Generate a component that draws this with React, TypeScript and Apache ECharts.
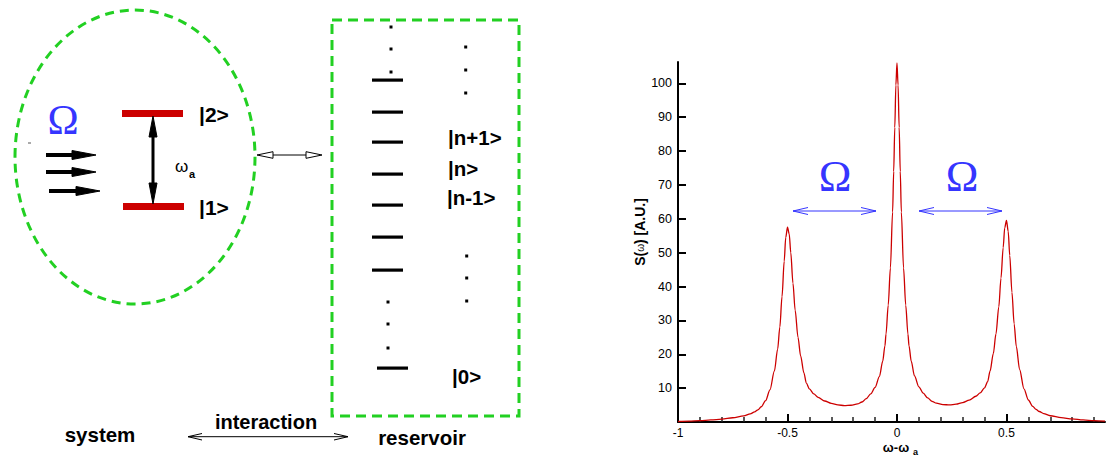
import React, { useEffect, useRef } from "react";
import * as echarts from "echarts";

// Spectrum S(omega)
const detuning = [
  -1, -0.95, -0.9, -0.85, -0.8, -0.75, -0.7, -0.67, -0.65, -0.635, -0.62, -0.6, -0.58, -0.56,
  -0.545, -0.535, -0.525, -0.515, -0.508, -0.5, -0.492, -0.485, -0.475, -0.465, -0.452, -0.44,
  -0.425, -0.414, -0.4, -0.38, -0.36, -0.33, -0.3, -0.27, -0.24, -0.21, -0.18, -0.16, -0.14,
  -0.12, -0.1, -0.08, -0.065, -0.055, -0.05, -0.04, -0.03, -0.02, -0.015, -0.01, -0.005, 0,
  0.005, 0.01, 0.015, 0.02, 0.03, 0.04, 0.05, 0.055, 0.065, 0.08, 0.1, 0.12, 0.14, 0.16, 0.18,
  0.21, 0.24, 0.27, 0.3, 0.33, 0.36, 0.38, 0.4, 0.414, 0.425, 0.44, 0.452, 0.465, 0.475, 0.485,
  0.492, 0.5, 0.508, 0.515, 0.525, 0.535, 0.545, 0.56, 0.58, 0.6, 0.62, 0.635, 0.65, 0.67, 0.7,
  0.75, 0.8, 0.85, 0.9, 0.95,
];
const spectrum = [
  0.15, 0.25, 0.4, 0.6, 0.85, 1.25, 1.8, 2.4, 3.0, 3.6, 4.5, 6.3, 9.5, 15,
  21.5, 28, 37, 47.5, 54.5, 57.5, 55.5, 50, 41, 33, 25, 19.5,
  14.5, 11.5, 9.8, 8.3, 7.3, 6.2, 5.5, 5.05, 4.85, 4.95, 5.35, 5.9, 6.9,
  8.3, 10.2, 13.5, 18, 22.5, 26, 34.5, 45.5, 62, 74, 87, 99.5, 106,
  99.5, 87, 74, 62, 45.5, 34.5, 26, 22.5, 18, 13.6, 10.4, 8.5, 7.1, 6.1, 5.55,
  5.15, 5.05, 5.25, 5.75, 6.45, 7.6, 8.6, 10.1, 11.9, 15, 20.2, 26, 34, 42.5, 51.5,
  57.3, 59.5, 56.3, 49.2, 38.3, 29, 22.3, 15.5, 9.8, 6.5, 4.6, 3.7, 3.1, 2.5, 1.85,
  1.3, 0.9, 0.6, 0.4, 0.25,
];
const yTickValues = [10, 20, 30, 40, 50, 60, 70, 80, 90, 100];
const xLabelValues = [-1, -0.5, 0, 0.5];
const xMajorTickValues = [-0.5, 0, 0.5];
const xMinorTickValues = [-0.9, -0.8, -0.7, -0.6, -0.4, -0.3, -0.2, -0.1, 0.1, 0.2, 0.3, 0.4, 0.6, 0.7, 0.8, 0.9];

const SANS = "Liberation Sans, Arial, Helvetica, sans-serif";
const SERIF = "Liberation Serif, Times New Roman, serif";
const GREEN = "#22d022";
const BLUE = "#3535ff";
const RED = "#cc0000";
const BLACK = "#000000";

function txt(x: number, y: number, text: string, size: number, opts: any = {}) {
  return {
    type: "text",
    x,
    y,
    silent: true,
    style: {
      text,
      fontSize: size,
      fontFamily: opts.family || SANS,
      fontWeight: opts.weight || "bold",
      fill: opts.fill || BLACK,
      align: opts.align || "left",
      verticalAlign: "middle",
    },
  };
}

function line(x1: number, y1: number, x2: number, y2: number, w: number, color = BLACK) {
  return { type: "line", silent: true, shape: { x1, y1, x2, y2 }, style: { stroke: color, lineWidth: w } };
}

function poly(points: number[][], fill: string) {
  return { type: "polygon", silent: true, shape: { points }, style: { fill, stroke: fill, lineWidth: 1 } };
}

function vHead(points: number[][], color: string, w = 1) {
  return { type: "polyline", silent: true, shape: { points }, style: { stroke: color, lineWidth: w, fill: "none" } };
}

function openTri(points: number[][]) {
  return { type: "polygon", silent: true, shape: { points }, style: { fill: "#ffffff", stroke: BLACK, lineWidth: 1 } };
}

function dot(x: number, y: number) {
  return { type: "rect", silent: true, shape: { x: x - 1.5, y: y - 1.5, width: 3, height: 3 }, style: { fill: BLACK } };
}

function buildDiagram(): any[] {
  const g: any[] = [];
  // system ellipse
  g.push({
    type: "ellipse",
    silent: true,
    shape: { cx: 135, cy: 157, rx: 120, ry: 147 },
    style: { fill: "none", stroke: GREEN, lineWidth: 3, lineDash: [9, 6] },
  });
  // reservoir box
  g.push({
    type: "rect",
    silent: true,
    shape: { x: 332, y: 20, width: 187, height: 396 },
    style: { fill: "none", stroke: GREEN, lineWidth: 3, lineDash: [10, 6] },
  });
  // two-level atom
  g.push({ type: "rect", silent: true, shape: { x: 122, y: 110, width: 61, height: 7 }, style: { fill: RED } });
  g.push({ type: "rect", silent: true, shape: { x: 123, y: 203, width: 61, height: 7 }, style: { fill: RED } });
  g.push(line(153, 130, 153, 190, 3));
  g.push(poly([[153, 116], [149, 137], [157, 137]], BLACK));
  g.push(poly([[153, 204], [149, 183], [157, 183]], BLACK));
  g.push(txt(175, 166, "ω", 17, { weight: "normal" }));
  g.push(txt(189, 174, "a", 11, { weight: "bold" }));
  g.push(txt(199, 114, "|2>", 21));
  g.push(txt(199, 207, "|1>", 21));
  // driving field
  g.push(txt(63, 120, "Ω", 42, { family: SERIF, weight: "normal", fill: BLUE, align: "center" }));
  g.push({ type: "rect", silent: true, shape: { x: 28, y: 142.5, width: 3, height: 1 }, style: { fill: "#555" } });
  const arrowRows = [
    [46, 96, 155],
    [46, 96, 172],
    [49, 100, 191],
  ];
  arrowRows.forEach(([a, b, y]) => {
    g.push(line(a, y, b - 20, y, 4));
    g.push(poly([[b, y], [b - 24, y - 4.5], [b - 24, y + 4.5]], BLACK));
  });
  // coupling arrow
  g.push(line(262, 155, 318, 155, 1));
  g.push(openTri([[257, 155], [273, 151.7], [273, 158.3]]));
  g.push(openTri([[322, 155], [306, 151.7], [306, 158.3]]));
  // reservoir levels
  [80, 112, 142, 174, 205, 237, 270].forEach((y) => {
    g.push({ type: "rect", silent: true, shape: { x: 372, y: y - 1.5, width: 31, height: 3.2 }, style: { fill: BLACK } });
  });
  g.push({ type: "rect", silent: true, shape: { x: 377, y: 366.5, width: 31, height: 3.2 }, style: { fill: BLACK } });
  [27, 49, 72].forEach((y) => g.push(dot(391, y)));
  [302, 324, 348].forEach((y) => g.push(dot(388, y)));
  [47, 70, 93].forEach((y) => g.push(dot(465.7, y)));
  [256, 278, 301].forEach((y) => g.push(dot(466.7, y)));
  g.push(txt(448, 137, "|n+1>", 20.5));
  g.push(txt(448, 168, "|n>", 20.5));
  g.push(txt(447, 197, "|n-1>", 20.5));
  g.push(txt(452, 376, "|0>", 20.5));
  // bottom captions
  g.push(txt(100, 434, "system", 20.5, { align: "center" }));
  g.push(txt(266, 422, "interaction", 20, { align: "center" }));
  g.push(txt(422, 437, "reservoir", 20.5, { align: "center" }));
  g.push(line(188, 436.7, 348, 436.7, 1));
  g.push(vHead([[202, 433.5], [188, 436.7], [202, 440]], BLACK));
  g.push(vHead([[334, 433.5], [348, 436.7], [334, 440]], BLACK));
  return g;
}

function buildChartDecor(): any[] {
  const g: any[] = [];
  g.push(txt(835, 176, "Ω", 44, { family: SERIF, weight: "normal", fill: BLUE, align: "center" }));
  g.push(txt(962, 176, "Ω", 44, { family: SERIF, weight: "normal", fill: BLUE, align: "center" }));
  g.push(line(793, 211, 876, 211, 1, BLUE));
  g.push(vHead([[808, 207.5], [793, 211], [808, 214.5]], BLUE));
  g.push(vHead([[861, 207.5], [876, 211], [861, 214.5]], BLUE));
  g.push(line(919, 211, 1002, 211, 1, BLUE));
  g.push(vHead([[934, 207.5], [919, 211], [934, 214.5]], BLUE));
  g.push(vHead([[987, 207.5], [1002, 211], [987, 214.5]], BLUE));
  // y axis name
  g.push({
    type: "text",
    x: 640,
    y: 232,
    rotation: Math.PI / 2,
    silent: true,
    style: {
      text: "{b|S(}{w|ω}{b|) [A.U.]}",
      align: "center",
      verticalAlign: "middle",
      fill: BLACK,
      rich: {
        b: { fontSize: 14, fontWeight: "bold", fontFamily: SANS, fill: BLACK },
        w: { fontSize: 10, fontWeight: "normal", fontFamily: SANS, fill: BLACK },
      },
    },
  });
  // x axis name
  g.push(txt(896, 447, "ω-ω", 13, { align: "center" }));
  g.push(txt(913, 452, "a", 9, {}));
  return g;
}

export default function App() {
  const ref = useRef<HTMLDivElement>(null);
  useEffect(() => {
    if (!ref.current) return;
    const chart = echarts.init(ref.current, undefined, { renderer: "svg" });
    const option: any = {
      animation: false,
      backgroundColor: "#ffffff",
      grid: { left: 678, right: 1, top: 62, bottom: 36 },
      xAxis: [
        {
          type: "value",
          min: -1,
          max: 0.95,
          axisLine: { onZero: false, lineStyle: { color: BLACK, width: 2 } },
          axisTick: { show: true, inside: true, length: 8, lineStyle: { color: BLACK, width: 2 }, customValues: xMajorTickValues },
          axisLabel: {
            color: BLACK,
            fontSize: 12,
            fontFamily: SANS,
            margin: 5,
            customValues: xLabelValues,
            formatter: (v: number) => String(v),
          },
          splitLine: { show: false },
        },
        {
          type: "value",
          min: -1,
          max: 0.95,
          position: "bottom",
          axisLine: { show: false, onZero: false },
          axisTick: { show: true, inside: true, length: 5, lineStyle: { color: "#222", width: 1.5 }, customValues: xMinorTickValues },
          axisLabel: { show: false },
          splitLine: { show: false },
        },
      ],
      yAxis: {
        type: "value",
        min: 0,
        max: 106.3,
        axisLine: { show: true, onZero: false, lineStyle: { color: BLACK, width: 2 } },
        axisTick: { show: true, inside: true, length: 8, lineStyle: { color: BLACK, width: 2 }, customValues: yTickValues },
        axisLabel: { color: BLACK, fontSize: 12.5, fontFamily: SANS, margin: 6, customValues: yTickValues },
        splitLine: { show: false },
      },
      series: [
        {
          type: "line",
          xAxisIndex: 0,
          data: detuning.map((x, i) => [x, spectrum[i]]),
          showSymbol: false,
          smooth: 0.3,
          smoothMonotone: "x",
          lineStyle: { color: RED, width: 1.3 },
          silent: true,
        },
      ],
      graphic: [...buildDiagram(), ...buildChartDecor()],
    };
    chart.setOption(option);
    return () => chart.dispose();
  }, []);
  return (
    <div
      ref={ref}
      style={{ position: "absolute", left: 0, top: 0, width: 1106, height: 458, background: "#fff" }}
    />
  );
}
